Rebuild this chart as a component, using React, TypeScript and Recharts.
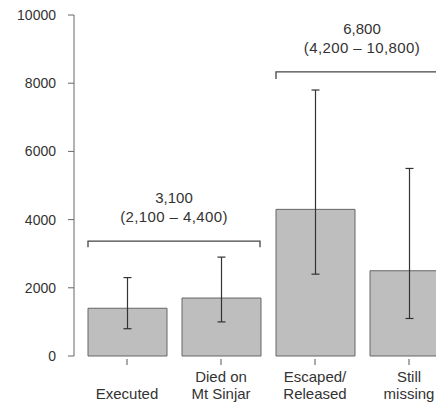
import React from "react";
import { BarChart, Bar, XAxis, YAxis, ErrorBar, ReferenceArea } from "recharts";

const categories = ["Executed", "Died on Mt Sinjar", "Escaped/Released", "Still missing"];
const tickLabels = [["", "Executed"], ["Died on", "Mt Sinjar"], ["Escaped/", "Released"], ["Still", "missing"]];
const estimates = [1400, 1700, 4300, 2500];
const lowerBounds = [800, 1000, 2400, 1100];
const upperBounds = [2300, 2900, 7800, 5500];
const yTicks = [0, 2000, 4000, 6000, 8000, 10000];

const groupFrom = ["Executed", "Escaped/Released"];
const groupTo = ["Died on Mt Sinjar", "Still missing"];
const groupLineLevel = [3370, 8330];
const groupTipLevel = [3190, 8120];
const groupTotals = ["3,100", "6,800"];
const groupRanges = ["(2,100 \u2013 4,400)", "(4,200 \u2013 10,800)"];

const data = categories.map((c, i) => ({
  name: c,
  value: estimates[i],
  err: [estimates[i] - lowerBounds[i], upperBounds[i] - estimates[i]],
}));

const FONT = '"Liberation Sans", Arial, Helvetica, sans-serif';

const XTick = (props: any) => {
  const { x, y, index } = props;
  const lines = tickLabels[index] || ["", ""];
  return (
    <g>
      <line x1={x} x2={x} y1={y - 5} y2={y + 1} stroke="#555" />
      <text x={x} y={y + 18} textAnchor="middle" fontSize={15} fontFamily={FONT} fill="#333">{lines[0]}</text>
      <text x={x} y={y + 35} textAnchor="middle" fontSize={15} fontFamily={FONT} fill="#333">{lines[1]}</text>
    </g>
  );
};

const makeBracket = (i: number) => (props: any) => {
  const { x, y, width, height } = props;
  const inset = 8;
  const x1 = x + inset;
  const x2 = x + width - inset;
  const cx = (x1 + x2) / 2;
  return (
    <g>
      <path d={`M${x1},${y + height} L${x1},${y} L${x2},${y} L${x2},${y + height}`} fill="none" stroke="#444" strokeWidth={1.3} />
      <text x={cx} y={y - 38} textAnchor="middle" fontSize={15} fontFamily={FONT} fill="#333">{groupTotals[i]}</text>
      <text x={cx} y={y - 19} textAnchor="middle" fontSize={15} letterSpacing={0.4} fontFamily={FONT} fill="#333">{groupRanges[i]}</text>
    </g>
  );
};

export default function App() {
  return (
    <div style={{ width: 436, height: 395, overflow: "hidden" }}>
      <BarChart
        width={452}
        height={395}
        data={data}
        margin={{ top: 7, right: 4, bottom: 0, left: 0 }}
      >
        <XAxis
          dataKey="name"
          axisLine={false}
          tickLine={false}
          tick={<XTick />}
          interval={0}
          height={47}
          padding={{ left: 6, right: 0 }}
        />
        <YAxis
          domain={[0, 10000]}
          ticks={yTicks}
          width={66}
          axisLine={{ stroke: "#666" }}
          tickLine={{ stroke: "#666" }}
          tickSize={6}
          tickMargin={12}
          tick={{ fontSize: 14, fontFamily: FONT, fill: "#333" }}
          interval={0}
        />
        <Bar dataKey="value" fill="#bebebe" stroke="#666" strokeWidth={1} barSize={79} isAnimationActive={false}>
          <ErrorBar dataKey="err" width={4} stroke="#333" strokeWidth={1.2} direction="y" />
        </Bar>
        {groupFrom.map((g, i) => (
          <ReferenceArea
            key={g}
            x1={g}
            x2={groupTo[i]}
            y1={groupTipLevel[i]}
            y2={groupLineLevel[i]}
            ifOverflow="visible"
            shape={makeBracket(i)}
          />
        ))}
      </BarChart>
    </div>
  );
}
